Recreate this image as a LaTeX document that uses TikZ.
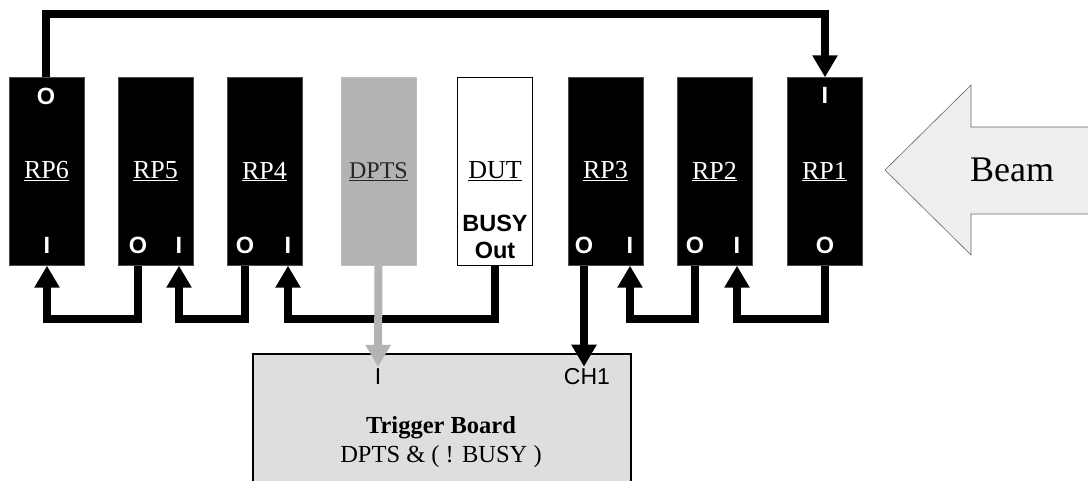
\documentclass[tikz,border=0pt]{standalone}
\usepackage{fontspec}
\setmainfont{Liberation Serif}
\setsansfont{Liberation Sans}
\usetikzlibrary{arrows.meta}
\definecolor{dptsgray}{RGB}{179,179,179}
\definecolor{boardgray}{RGB}{222,222,222}
\definecolor{beamgray}{RGB}{238,238,238}
\newcommand{\boxfont}{\fontsize{26}{30}\selectfont}
\newcommand{\portfont}{\sffamily\bfseries\fontsize{23.5}{27}\selectfont}
\begin{document}
\begin{tikzpicture}[x=1pt,y=-1pt,
      rpbox/.style={draw=gray!60!black,fill=black,text=white,minimum width=75pt,
                    minimum height=188pt,inner sep=0pt,font=\boxfont},
      pin/.style={text=white,font=\portfont,inner sep=1pt},
      wire/.style={line width=8pt,-{Triangle[width=24pt,length=22pt]}},
      greywire/.style={wire,dptsgray}]

    \useasboundingbox (0,0) rectangle (1088,480);
    \clip (0,0) rectangle (1088,480);
    \coordinate (top) at (0,14);
    \coordinate (bus) at (0,319);

    % ---- Detector planes --------------------------------------------------
    \node[rpbox] (rp6) at (46.5,171.5) {\underline{RP6}};
    \node[rpbox] (rp5) at (155.5,171.5) {\underline{RP5}};
    \node[rpbox] (rp4) at (264.5,171.5) {\underline{RP4}};
    \node[rpbox,fill=dptsgray,draw=dptsgray!85!white,text=black!85,font=\fontsize{24}{28}\selectfont]
          (dpts) at (378.5,171.5) {\underline{DPTS}};
    \node[rpbox,fill=white,draw=black,line width=1.5pt,text=black] (dut) at (495,171.5)
          {\underline{DUT}};
    \node[rpbox] (rp3) at (605.5,171.5) {\underline{RP3}};
    \node[rpbox] (rp2) at (714.5,171.5) {\underline{RP2}};
    \node[rpbox] (rp1) at (824.5,171.5) {\underline{RP1}};

    % ---- Ports ------------------------------------------------------------
    \node[pin] (rp6o) at (46,96) {O};
    \node[pin] (rp6i) at (47,245) {I};
    \node[pin] (rp5o) at (138,245) {O};
    \node[pin] (rp5i) at (179,245) {I};
    \node[pin] (rp4o) at (245,245) {O};
    \node[pin] (rp4i) at (288,245) {I};
    \node[pin,text=black,align=center] (dutout) at (495,237) {BUSY\\Out};
    \node[pin] (rp3o) at (584,245) {O};
    \node[pin] (rp3i) at (630,245) {I};
    \node[pin] (rp2o) at (695,245) {O};
    \node[pin] (rp2i) at (737,245) {I};
    \node[pin] (rp1o) at (825,245) {O};
    \node[pin] (rp1i) at (825,95) {I};

    % ---- Trigger board ----------------------------------------------------
    \node[draw=black,line width=1.5pt,fill=boardgray,minimum width=378pt,minimum height=170pt,
          anchor=north west] (trig) at (252,353) {};
    \node[font=\sffamily\fontsize{23}{27}\selectfont,inner sep=2pt] (trigi) at (378,377) {I};
    \node[font=\sffamily\fontsize{23}{27}\selectfont,inner sep=2pt] (trigch) at (587,377) {CH1};
    \node[align=center,font=\fontsize{24.5}{29}\selectfont] (trigtxt) at (441,442)
          {\textbf{Trigger Board}\\DPTS \& ( ! BUSY )};

    % ---- Beam -------------------------------------------------------------
    \filldraw[fill=beamgray,draw=gray!80!black,line width=0.6pt]
          (885,170) -- (971,85) -- (971,127) -- (1100,127) -- (1100,214)
          -- (971,214) -- (971,255) -- cycle;
    \node[font=\fontsize{36}{42}\selectfont] (beam) at (1012,170) {Beam};

    % ---- Connections ------------------------------------------------------
    \draw[wire] (rp6o |- rp6.north) -- (rp6o |- top) -| (rp1i |- rp1.north);
    \draw[wire] (rp5o |- rp5.south) -- (rp5o |- bus) -| (rp6i |- rp6.south);
    \draw[wire] (rp4o |- rp4.south) -- (rp4o |- bus) -| (rp5i |- rp5.south);
    \draw[wire] (dutout |- dut.south) -- (dutout |- bus) -| (rp4i |- rp4.south);
    \draw[wire] (rp2o |- rp2.south) -- (rp2o |- bus) -| (rp3i |- rp3.south);
    \draw[wire] (rp1o |- rp1.south) -- (rp1o |- bus) -| (rp2i |- rp2.south);
    \draw[wire] (rp3o |- rp3.south) -- (rp3o |- trigch.north);
    \draw[greywire] (dpts.south) -- (trigi.north);
  \end{tikzpicture}
\end{document}
